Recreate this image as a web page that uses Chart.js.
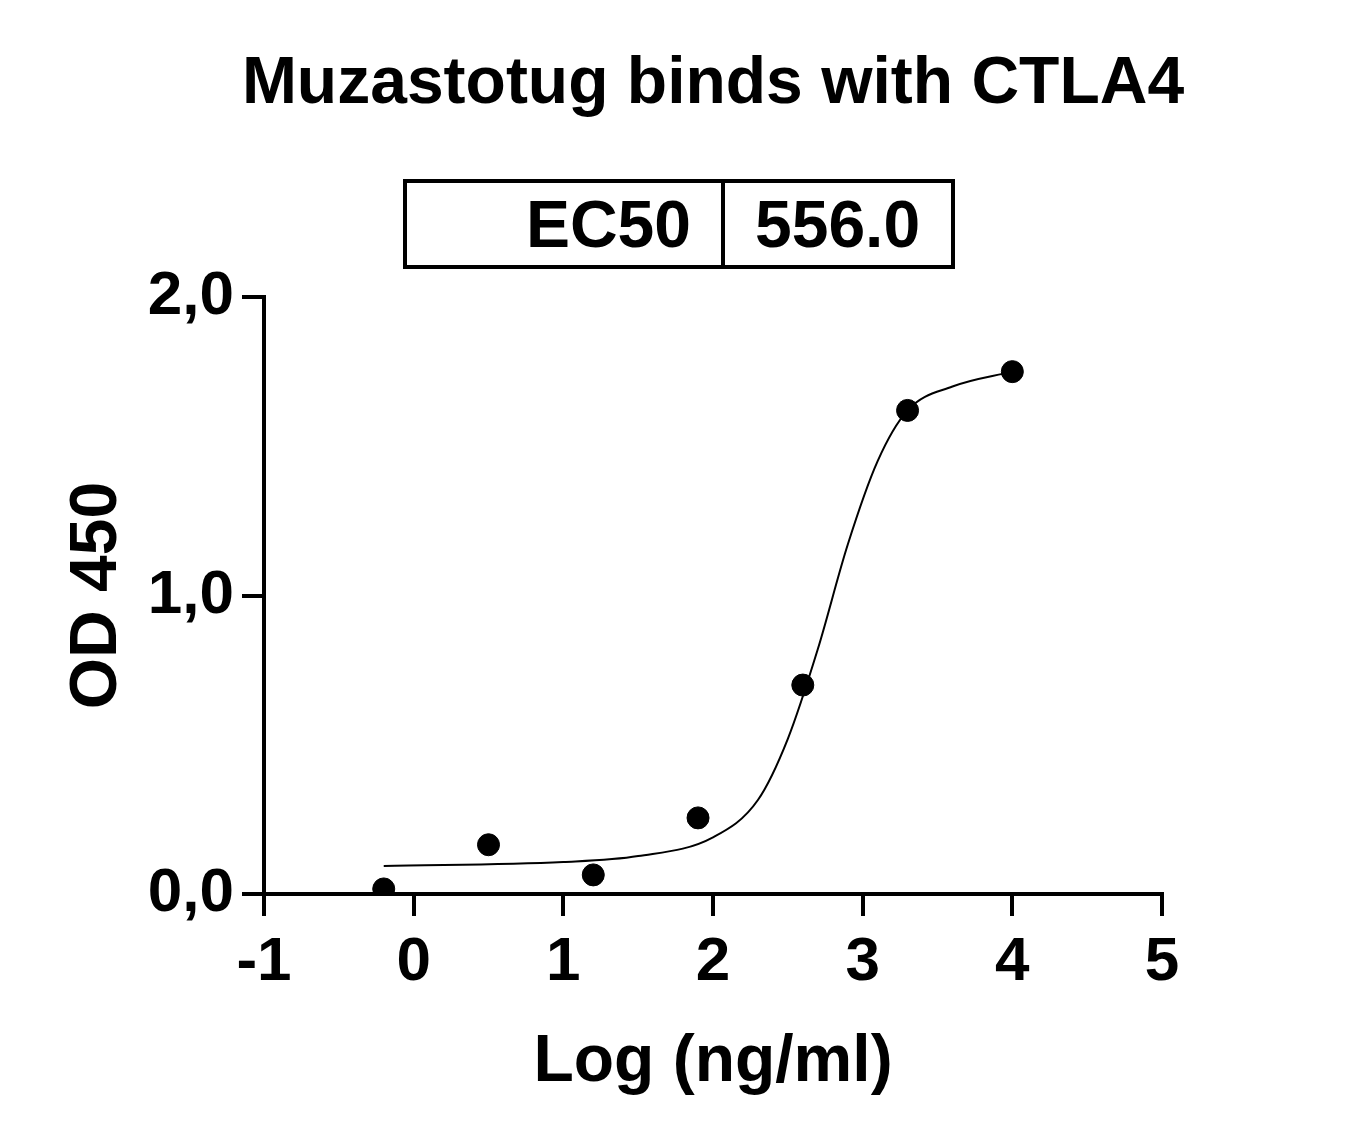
<!DOCTYPE html>
<html>
<head>
<meta charset="utf-8">
<script src="https://cdn.jsdelivr.net/npm/chart.js@4.4.0/dist/chart.umd.min.js"></script>
<style>
  html, body { margin: 0; padding: 0; background: #fff; }
  #wrap { position: relative; width: 1362px; height: 1142px; font-family: "Liberation Sans", Arial, sans-serif; }
  #title { position: absolute; left: 0; width: 1426px; top: 42px; text-align: center; font-weight: bold; font-size: 66px; color: #000; }
  #ec50 { position: absolute; left: 403px; top: 179px; width: 544px; height: 82px; border: 4px solid #000; display: flex; font-weight: bold; font-size: 66px; }
  #ec50 .k { width: 318px; border-right: 4px solid #000; text-align: right; padding-right: 30px; box-sizing: border-box; line-height: 82px; }
  #ec50 .v { flex: 1; padding-left: 30px; line-height: 82px; }
  canvas { position: absolute; left: 0; top: 0; }
</style>
</head>
<body>
<div id="wrap">
  <canvas id="c" width="1362" height="1142"></canvas>
  <div id="title">Muzastotug binds with CTLA4</div>
  <div id="ec50"><div class="k">EC50</div><div class="v">556.0</div></div>
</div>
<script>
// measured points
const logConc = [-0.2, 0.5, 1.2, 1.9, 2.6, 3.3, 4.0];
const od450 = [0.017, 0.165, 0.064, 0.255, 0.70, 1.62, 1.75];

// fitted curve
const curveX = [-0.2, 1.0, 1.5, 2.0, 2.3, 2.5, 2.7, 2.9, 3.1, 3.3, 3.6, 4.0];
const curveY = [0.094, 0.107, 0.127, 0.19, 0.315, 0.52, 0.82, 1.17, 1.45, 1.62, 1.70, 1.75];

const xTicks = [-1, 0, 1, 2, 3, 4, 5];
const yTicks = [0, 1, 2];

const font = (size) => ({ family: '"Liberation Sans", Arial, sans-serif', size: size, weight: 'bold' });

new Chart(document.getElementById('c'), {
    type: 'scatter',
    data: {
        datasets: [
            {
                data: logConc.map((x, i) => ({ x: x, y: od450[i] })),
                backgroundColor: '#000',
                borderColor: '#000',
                pointRadius: 11,
                showLine: false
            },
            {
                data: curveX.map((x, i) => ({ x: x, y: curveY[i] })),
                borderColor: '#000',
                borderWidth: 2,
                pointRadius: 0,
                showLine: true,
                cubicInterpolationMode: 'monotone'
            }
        ]
    },
    options: {
        responsive: false,
        animation: false,
        layout: { padding: { top: 297, right: 200, left: 54, bottom: 40 } },
        plugins: { legend: { display: false }, tooltip: { enabled: false } },
        scales: {
            x: {
                type: 'linear', min: -1, max: 5,
                afterBuildTicks: (s) => { s.ticks = xTicks.map(v => ({ value: v })); },
                afterFit: (s) => { s.height = 208; },
                border: { display: true, color: '#000', width: 4 },
                grid: { display: true, drawOnChartArea: false, drawTicks: true, tickLength: 22, color: '#000', lineWidth: 4 },
                ticks: { color: '#000', font: font(62), padding: 10, maxRotation: 0 },
                title: { display: true, text: 'Log (ng/ml)', color: '#000', font: font(66), padding: { top: 0, bottom: 0 } }
            },
            y: {
                type: 'linear', min: 0, max: 2,
                afterBuildTicks: (s) => { s.ticks = yTicks.map(v => ({ value: v })); },
                afterFit: (s) => { s.width = 210; },
                border: { display: true, color: '#000', width: 4 },
                grid: { display: true, drawOnChartArea: false, drawTicks: true, tickLength: 22, color: '#000', lineWidth: 4 },
                ticks: { color: '#000', font: font(62), padding: 8, callback: (v) => v.toFixed(1).replace('.', ',') },
                title: { display: true, text: 'OD 450', color: '#000', font: font(66), padding: { bottom: 0 } }
            }
        }
    }
});
</script>
</body>
</html>
